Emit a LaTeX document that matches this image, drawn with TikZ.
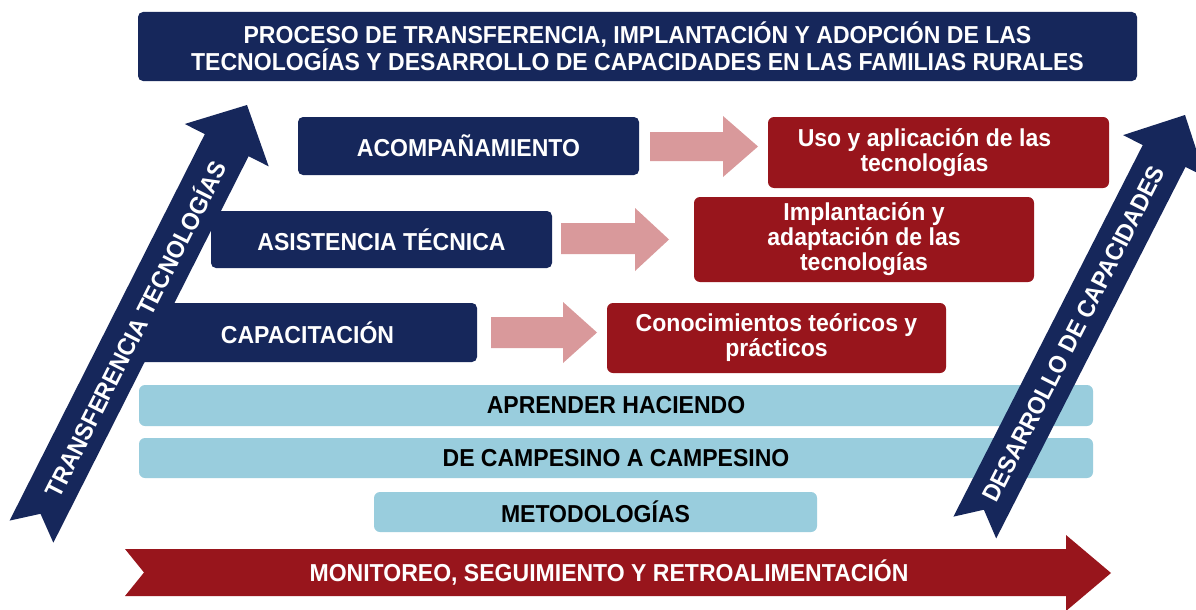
\documentclass[tikz,border=0pt]{standalone}
\usepackage{fontspec}
\setmainfont[FakeStretch=0.94]{Liberation Sans}
\definecolor{navy}{HTML}{16275B}
\definecolor{darkred}{HTML}{98151C}
\definecolor{pinkarr}{HTML}{D9999B}
\definecolor{lightblue}{HTML}{99CDDD}
\tikzset{
  txt/.style={font=\bfseries\fontsize{24.5}{25}\selectfont, align=center},
  navybox/.style={txt, fill=navy, text=white, rounded corners=5pt, inner sep=0pt},
  redbox/.style={txt, fill=darkred, text=white, rounded corners=6pt, inner sep=0pt},
  bluebar/.style={txt, fill=lightblue, text=black, rounded corners=6pt, inner sep=0pt},
  pinkarrow/.style={fill=pinkarr, draw=none},
  bigarrow/.style={fill=navy, draw=none},
  redarrow/.style={fill=darkred, draw=none},
  arrowtext/.style={txt, text=white, inner sep=0pt}
}
\begin{document}
\begin{tikzpicture}[x=1pt,y=-1pt]
\useasboundingbox (0,0) rectangle (1196,610);
\clip (0,0) rectangle (1196,610);
\fill[white] (0,0) rectangle (1196,610);

% title
\node[navybox, minimum width=999pt, minimum height=69pt] (title) at (637.5,46.5)
  {PROCESO DE TRANSFERENCIA, IMPLANTACIÓN Y ADOPCIÓN DE LAS\\TECNOLOGÍAS Y DESARROLLO DE CAPACIDADES EN LAS FAMILIAS RURALES};

% navy boxes
\node[navybox, minimum width=341pt, minimum height=58pt] (acomp) at (468.5,146) {ACOMPAÑAMIENTO};
\node[navybox, minimum width=341pt, minimum height=57pt] (asist) at (381.5,239.5) {ASISTENCIA TÉCNICA};
\node[navybox, minimum width=339pt, minimum height=59pt] (capac) at (307.5,332.5) {CAPACITACIÓN};

% red boxes
\node[redbox, minimum width=341pt, minimum height=71pt] (uso) at (938.5,152.5) {};
\node[txt, text=white, inner sep=0pt] (usotext) at ([xshift=-14pt]uso.center) {Uso y aplicación de las\\tecnologías};
\node[redbox, minimum width=340pt, minimum height=85pt] (impl) at (864,239.5) {Implantación y\\adaptación de las\\tecnologías};
\node[redbox, minimum width=339pt, minimum height=70pt] (conoc) at (776.5,338) {Conocimientos teóricos y\\prácticos};

% pink arrows
\fill[pinkarrow] (650,132) -- (723,132) -- (723,116) -- (758,146.5) -- (723,177) -- (723,161) -- (650,161) -- cycle;
\fill[pinkarrow] (561,223) -- (635,223) -- (635,208) -- (669,239.5) -- (635,271) -- (635,254) -- (561,254) -- cycle;
\fill[pinkarrow] (491,317) -- (563,317) -- (563,302) -- (597,332.5) -- (563,363) -- (563,348) -- (491,348) -- cycle;

% light blue bars
\node[bluebar, minimum width=954pt, minimum height=41pt] (aprender) at (616,405.5) {APRENDER HACIENDO};
\node[bluebar, minimum width=954pt, minimum height=40pt] (campesino) at (616,458) {DE CAMPESINO A CAMPESINO};
\node[bluebar, minimum width=443pt, minimum height=40pt] (metod) at (595.5,512) {METODOLOGÍAS};

% left big arrow
\begin{scope}[shift={(247,105)}, rotate=63.2]
\fill[bigarrow] (0,0) -- (-45,-47) -- (-45,-24.5) -- (-478,-24.5) -- (-458,0) -- (-478,24.5) -- (-45,24.5) -- (-45,47) -- cycle;
\end{scope}
\node[arrowtext, rotate=63.2] (transf) at (134.3,328.3) {TRANSFERENCIA TECNOLOGÍAS};

% right big arrow
\begin{scope}[shift={(1185,115)}, rotate=63.0]
\fill[bigarrow] (0,0) -- (-46,-46) -- (-46,-24) -- (-463,-24) -- (-443,0) -- (-463,24) -- (-46,24) -- (-46,46) -- cycle;
\end{scope}
\node[arrowtext, rotate=63.0] (desarr) at (1073.7,333.8) {DESARROLLO DE CAPACIDADES};

% bottom red arrow
\fill[redarrow] (125,549) -- (1066,549) -- (1066,535) -- (1111,573) -- (1066,611) -- (1066,596) -- (125,596) -- (144,572.5) -- cycle;
\node[arrowtext] (monit) at (609,573) {MONITOREO, SEGUIMIENTO Y RETROALIMENTACIÓN};
\end{tikzpicture}
\end{document}
